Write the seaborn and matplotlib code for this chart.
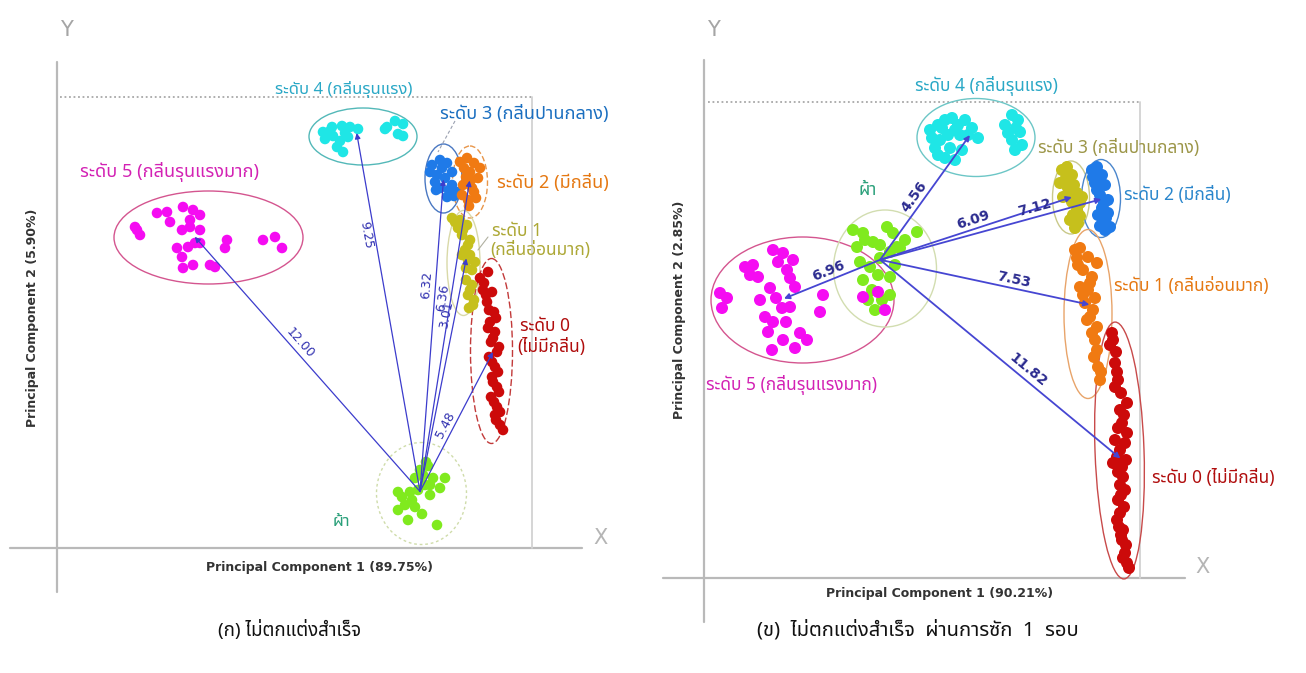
import math
import matplotlib
matplotlib.use("Agg")
import matplotlib.pyplot as plt
import pandas as pd
import seaborn as sns
from matplotlib import font_manager
from matplotlib.patches import Ellipse

# ---- data: point positions (image pixel units) ----
# panel (ก) ไม่ตกแต่งสำเร็จ
a_fabric = [(420, 470), (428, 466), (433, 478), (425, 485), (418, 490), (410, 492), (402, 497),
            (412, 500), (430, 495), (440, 488), (445, 478), (398, 510), (408, 520), (422, 514),
            (437, 525), (398, 492), (426, 462), (415, 478), (423, 475), (430, 485), (405, 505),
            (415, 507)]
a_lv5 = [(137, 230), (140, 235), (135, 227), (157, 213), (167, 212), (170, 222), (183, 207),
         (193, 210), (200, 215), (190, 220), (182, 230), (200, 230), (190, 227), (177, 248),
         (182, 257), (188, 247), (195, 243), (200, 243), (183, 268), (193, 265), (210, 265),
         (215, 267), (227, 240), (225, 248), (263, 240), (275, 237), (282, 248)]
a_lv4 = [(323, 132), (332, 127), (342, 126), (350, 127), (333, 136), (325, 139), (340, 141),
         (348, 137), (337, 147), (343, 152), (358, 129), (387, 127), (395, 121), (403, 124),
         (398, 134), (403, 136), (385, 129), (330, 131), (345, 133)]
a_lv3 = [(432, 165), (440, 160), (447, 163), (437, 175), (430, 172), (445, 178), (452, 185),
         (457, 192), (447, 197), (440, 188), (452, 172), (435, 182), (442, 168), (436, 190),
         (449, 190), (454, 196)]
a_lv2 = [(460, 162), (467, 158), (474, 163), (470, 172), (478, 178), (472, 188), (476, 198),
         (468, 200), (463, 185), (480, 168), (466, 177), (464, 168), (471, 180), (474, 192),
         (462, 195), (469, 206)]
a_lv1 = [(452, 218), (460, 220), (467, 225), (462, 235), (470, 240), (465, 250), (468, 260),
         (472, 270), (466, 280), (470, 290), (474, 300), (469, 308), (475, 262), (458, 228),
         (455, 222), (463, 230), (468, 245), (462, 255), (470, 255), (466, 268), (472, 285),
         (468, 295), (473, 305)]
a_lv0 = [(488, 272), (484, 283), (492, 292), (487, 302), (494, 312), (490, 322), (495, 332),
         (491, 342), (497, 352), (492, 362), (498, 372), (493, 382), (499, 392), (494, 402),
         (500, 412), (496, 420), (503, 430), (486, 295), (480, 278), (483, 290), (489, 310),
         (496, 318), (488, 328), (493, 338), (499, 347), (489, 357), (495, 367), (492, 377),
         (497, 387), (491, 397), (497, 407), (495, 415), (500, 425)]
a_dist_to = ["lv5", "lv4", "lv3", "lv2", "lv1", "lv0"]
a_dist = ["12.00", "9.25", "6.32", "6.36", "3.01", "5.48"]

# panel (ข) ไม่ตกแต่งสำเร็จ ผ่านการซัก 1 รอบ
b_fabric = [(853, 230), (863, 233), (887, 227), (893, 233), (917, 232), (857, 247), (873, 242),
            (890, 252), (900, 248), (870, 267), (863, 280), (890, 277), (872, 290), (890, 295),
            (875, 310), (897, 247), (880, 258), (865, 240), (880, 245), (905, 240), (860, 262),
            (878, 275), (895, 265), (882, 300), (868, 300)]
b_lv5 = [(720, 293), (727, 298), (722, 308), (745, 267), (753, 265), (758, 277), (773, 250),
         (783, 253), (793, 260), (787, 270), (770, 288), (795, 287), (782, 308), (790, 307),
         (765, 317), (773, 322), (768, 332), (783, 340), (800, 333), (807, 340), (772, 350),
         (823, 295), (820, 312), (863, 297), (878, 292), (885, 310), (750, 275), (778, 262),
         (790, 278), (760, 300), (776, 298), (786, 322), (795, 348)]
b_lv4 = [(930, 130), (938, 125), (945, 120), (952, 118), (958, 125), (965, 120), (972, 128),
         (978, 138), (960, 135), (948, 135), (940, 140), (935, 148), (950, 148), (962, 150),
         (955, 160), (945, 158), (1005, 125), (1012, 115), (1018, 120), (1020, 132), (1012, 140),
         (1022, 145), (1015, 150), (932, 138), (942, 128), (955, 130), (968, 135), (938, 155),
         (1008, 133), (1016, 128)]
b_lv3 = [(1062, 170), (1067, 167), (1072, 175), (1060, 183), (1068, 188), (1077, 193), (1082, 197),
         (1072, 202), (1077, 210), (1070, 220), (1078, 223), (1075, 228), (1063, 197), (1066, 178),
         (1074, 185), (1069, 195), (1080, 203), (1073, 215), (1080, 216)]
b_lv2 = [(1092, 170), (1097, 167), (1102, 175), (1095, 183), (1105, 185), (1100, 195), (1108, 200),
         (1102, 208), (1108, 213), (1103, 222), (1110, 227), (1105, 230), (1093, 177), (1100, 180),
         (1097, 190), (1104, 203), (1098, 215), (1106, 218), (1100, 226)]
b_lv1 = [(1075, 250), (1080, 248), (1077, 258), (1088, 257), (1097, 263), (1083, 270), (1092, 277),
         (1080, 287), (1088, 290), (1095, 298), (1085, 303), (1090, 317), (1097, 327), (1087, 320),
         (1092, 333), (1097, 350), (1098, 367), (1100, 380), (1078, 265), (1090, 283), (1083, 295),
         (1093, 310), (1095, 340), (1094, 357), (1101, 372)]
b_lv0 = [(1112, 333), (1110, 345), (1115, 363), (1117, 372), (1115, 387), (1127, 403), (1122, 423),
         (1127, 433), (1115, 440), (1125, 443), (1113, 463), (1122, 467), (1123, 477), (1120, 485),
         (1118, 500), (1120, 513), (1117, 520), (1123, 530), (1122, 540), (1125, 553), (1127, 563),
         (1113, 340), (1116, 352), (1118, 380), (1121, 393), (1120, 410), (1124, 415), (1118, 428),
         (1120, 450), (1117, 457), (1126, 460), (1118, 472), (1125, 490), (1121, 495), (1124, 507),
         (1119, 527), (1121, 535), (1126, 545), (1123, 558), (1129, 568)]
b_dist_to = ["lv4", "lv3", "lv2", "lv1", "lv0", "lv5"]
b_dist = ["4.56", "6.09", "7.12", "7.53", "11.82", "6.96"]

captions = ["(ก) ไม่ตกแต่งสำเร็จ", "(ข)  ไม่ตกแต่งสำเร็จ  ผ่านการซัก  1  รอบ"]
pc1_labels = ["Principal Component 1 (89.75%)", "Principal Component 1 (90.21%)"]
pc2_labels = ["Principal Component 2 (5.90%)", "Principal Component 2 (2.85%)"]

# ---- styling ----
point_colors = {"fabric": "#80ea1e", "lv5": "#f50cf2", "lv4": "#1fe6e6", "lv3": "#1f7ae8",
                "lv2": "#f07a12", "lv1": "#c6c01c", "lv0": "#cc0a0a"}
b_point_colors = dict(point_colors, lv3="#c6c01c", lv2="#1f7ae8", lv1="#f07a12")


def thai_family():
    names = {f.name for f in font_manager.fontManager.ttflist}
    for n in ["Noto Sans Thai", "Noto Sans Thai UI", "Sarabun", "Loma", "Garuda", "Waree",
              "Norasi", "Kinnari", "Tlwg Typo"]:
        if n in names:
            return n
    try:
        from fontTools.ttLib import TTFont
    except ImportError:
        return None
    for f in font_manager.fontManager.ttflist:
        try:
            cmap = TTFont(f.fname, fontNumber=0, lazy=True).getBestCmap()
            if cmap and 0x0E01 in cmap:
                return f.name
        except Exception:
            pass
    return None


def pick(cands):
    names = {f.name for f in font_manager.fontManager.ttflist}
    for n in cands:
        if n in names:
            return n
    return "DejaVu Sans"


sns.set_theme(style="white")
TH = thai_family()
plt.rcParams["font.family"] = [TH, "DejaVu Sans"] if TH else ["DejaVu Sans"]
NARROW = pick(["Liberation Sans Narrow", "DejaVu Sans"])
PC_FS = 10.5 if NARROW != "DejaVu Sans" else 9

fig = plt.figure(figsize=(13.06, 6.73), dpi=100)
ax1 = fig.add_axes([0, 0, 653 / 1306, 1])
ax2 = fig.add_axes([653 / 1306, 0, 653 / 1306, 1])


def frame(groups, order):
    rows = []
    for name in order:
        for x, y in groups[name]:
            rows.append({"x": x, "y": y, "group": name})
    return pd.DataFrame(rows)


def centre(pts):
    return (sum(p[0] for p in pts) / len(pts), sum(p[1] for p in pts) / len(pts))


def ring(ax, pts, pad, color, ls="-", lw=1.0, angle=0):
    xs = [p[0] for p in pts]
    ys = [p[1] for p in pts]
    cx, cy = (min(xs) + max(xs)) / 2, (min(ys) + max(ys)) / 2
    ax.add_patch(Ellipse((cx, cy), max(xs) - min(xs) + pad[0], max(ys) - min(ys) + pad[1],
                         angle=angle, fill=False, ec=color, ls=ls, lw=lw, zorder=1))


def link(ax, origin, tip, label, t, side, color, lw, fs, weight, tcolor):
    ax.annotate("", xy=tip, xytext=origin, zorder=4,
                arrowprops=dict(arrowstyle="-|>", color=color, lw=lw, shrinkA=0, shrinkB=0,
                                mutation_scale=8))
    dx, dy = tip[0] - origin[0], tip[1] - origin[1]
    ang = math.degrees(math.atan2(-dy, dx))
    if ang > 90:
        ang -= 180
    elif ang < -90:
        ang += 180
    r = math.radians(ang)
    gap = 2 if side == "bottom" else -2
    px = origin[0] + t * dx - gap * math.sin(r)
    py = origin[1] + t * dy - gap * math.cos(r)
    ax.text(px, py, label, rotation=ang, rotation_mode="anchor", ha="center", va=side,
            fontsize=fs, fontweight=weight, color=tcolor, family="DejaVu Sans", zorder=5)


def axes_frame(ax, x0, y0, ytop, xend, xr, ytopdot, xdot0, ylett, xlett):
    g = "#b9b9b9"
    ax.plot([x0, x0], [ytop, y0 + 44], color=g, lw=1.6, zorder=0)
    ax.plot([ax.get_xlim()[0] + 10, xend], [y0, y0], color=g, lw=1.6, zorder=0)
    ax.plot([xdot0, xr], [ytopdot, ytopdot], color="#a8a8a8", lw=1.3, ls=(0, (1, 1.5)), zorder=0)
    ax.plot([xr, xr], [ytopdot, y0], color="#d2d2d2", lw=1.3, zorder=0)
    ax.text(x0 + 9, ylett, "Y", fontsize=15, color="#a5a5a5", ha="center", va="center",
            family="DejaVu Sans")
    ax.text(xlett[0], xlett[1], "X", fontsize=15, color="#b5b5b5", ha="center", va="center",
            family="DejaVu Sans")


def pc_labels(ax, i, xy1, xy2):
    ax.text(xy1[0], xy1[1], pc1_labels[i], fontsize=PC_FS, fontweight="bold", color="#333333",
            ha="center", va="center", family=NARROW)
    ax.text(xy2[0], xy2[1], pc2_labels[i], fontsize=PC_FS, fontweight="bold", color="#333333",
            ha="center", va="center", rotation=90, family=NARROW)


order = ["fabric", "lv5", "lv4", "lv3", "lv2", "lv1", "lv0"]

# ================= panel (ก) =================
ax1.set_xlim(0, 653)
ax1.set_ylim(673, 0)
a_groups = {"fabric": a_fabric, "lv5": a_lv5, "lv4": a_lv4, "lv3": a_lv3, "lv2": a_lv2,
            "lv1": a_lv1, "lv0": a_lv0}
axes_frame(ax1, 57, 548, 62, 582, 532, 97, 60, 30, (600, 538))

ring(ax1, a_lv5, (42, 32), "#d4558f")
ring(ax1, a_lv4, (28, 26), "#53b8b8")
ring(ax1, a_lv3, (10, 32), "#4a78c2")
ring(ax1, a_lv2, (15, 24), "#e8964a", ls=(0, (4, 2)))
ring(ax1, a_lv1, (10, 15), "#d9d9a8")
ring(ax1, a_lv0, (19, 27), "#c23a3a", ls=(0, (5, 2)))
ring(ax1, a_fabric, (43, 39), "#cfdcaa", ls=(0, (2, 2)))

sns.scatterplot(data=frame(a_groups, order), x="x", y="y", hue="group", palette=point_colors,
                s=58, linewidth=0, legend=False, ax=ax1, zorder=3)

o = centre(a_fabric)
a_t = [0.56, 0.72, 0.66, 0.62, 0.75, 0.45]
a_side = ["bottom", "top", "bottom", "bottom", "bottom", "bottom"]
for key, lab, t, side in zip(a_dist_to, a_dist, a_t, a_side):
    link(ax1, o, centre(a_groups[key]), lab, t, side, "#3c3ccc", 0.9, 9, "medium", "#3030b0")

ax1.plot([455, 438], [121, 152], color="#9aa0b0", lw=0.8, ls=(0, (3, 2)), zorder=1)
ax1.plot([488, 478], [237, 250], color="#b0b0a0", lw=0.8, zorder=1)

a_texts = [
    (275, 90, "ระดับ 4 (กลิ่นรุนแรง)", "#2aa8c6", "normal", 12),
    (440, 114, "ระดับ 3 (กลิ่นปานกลาง)", "#1b6fc0", "normal", 13),
    (497, 183, "ระดับ 2 (มีกลิ่น)", "#e57812", "normal", 13),
    (492, 231, "ระดับ 1", "#ada836", "normal", 12.5),
    (490, 250, "(กลิ่นอ่อนมาก)", "#ada836", "normal", 12.5),
    (520, 326, "ระดับ 0", "#b00d0d", "bold", 12.5),
    (517, 347, "(ไม่มีกลิ่น)", "#b00d0d", "bold", 12.5),
    (80, 172, "ระดับ 5 (กลิ่นรุนแรงมาก)", "#d322b4", "normal", 13),
    (333, 522, "ผ้า", "#2aa07a", "normal", 12),
]
for x, y, s, c, w, fs in a_texts:
    ax1.text(x, y, s, color=c, fontsize=fs, fontweight=w, ha="left", va="center",
             clip_on=True)

pc_labels(ax1, 0, (320, 568), (33, 318))
ax1.text(218, 630, captions[0], fontsize=13.5, color="#111111", ha="left", va="center")
ax1.set_xlim(0, 653)
ax1.set_ylim(673, 0)
ax1.axis("off")

# ================= panel (ข) =================
ax2.set_xlim(653, 1306)
ax2.set_ylim(673, 0)
b_groups = {"fabric": b_fabric, "lv5": b_lv5, "lv4": b_lv4, "lv3": b_lv3, "lv2": b_lv2,
            "lv1": b_lv1, "lv0": b_lv0}
axes_frame(ax2, 704, 578, 60, 1185, 1140, 102, 708, 30, (1202, 567))

ring(ax2, b_lv5, (18, 26), "#d4558f")
ring(ax2, b_lv4, (26, 33), "#6cc6c6")
ring(ax2, b_lv3, (15, 12), "#c9c98a")
ring(ax2, b_lv2, (21, 15), "#4a86cc")
ring(ax2, b_lv1, (22, 37), "#e8a46a")
ring(ax2, b_lv0, (30, 22), "#c84a4a", angle=-2)
ring(ax2, b_fabric, (39, 34), "#d2ddb0")

sns.scatterplot(data=frame(b_groups, order), x="x", y="y", hue="group", palette=b_point_colors,
                s=75, linewidth=0, legend=False, ax=ax2, zorder=3)

o = centre(b_fabric)
b_t = [0.46, 0.5, 0.71, 0.63, 0.59, 0.5]
for key, lab, t in zip(b_dist_to, b_dist, b_t):
    link(ax2, o, centre(b_groups[key]), lab, t, "bottom", "#4646d2", 1.3, 10, "bold", "#2c2c90")

b_texts = [
    (915, 86, "ระดับ 4 (กลิ่นรุนแรง)", "#2aa8c6", "normal"),
    (1038, 148, "ระดับ 3 (กลิ่นปานกลาง)", "#9c9648", "normal"),
    (1124, 195, "ระดับ 2 (มีกลิ่น)", "#2a86cc", "normal"),
    (1114, 286, "ระดับ 1 (กลิ่นอ่อนมาก)", "#e57812", "normal"),
    (1152, 478, "ระดับ 0 (ไม่มีกลิ่น)", "#b00d0d", "bold"),
    (706, 385, "ระดับ 5 (กลิ่นรุนแรงมาก)", "#d322b4", "normal"),
    (858, 190, "ผ้า", "#2aa07a", "normal"),
]
for x, y, s, c, w in b_texts:
    ax2.text(x, y, s, color=c, fontsize=12.5, fontweight=w, ha="left", va="center",
             clip_on=True)

pc_labels(ax2, 1, (940, 594), (680, 310))
ax2.text(757, 630, captions[1], fontsize=14.5, color="#111111", ha="left", va="center")
ax2.set_xlim(653, 1306)
ax2.set_ylim(673, 0)
ax2.axis("off")

fig.savefig("out.png", dpi=100, facecolor="white")
